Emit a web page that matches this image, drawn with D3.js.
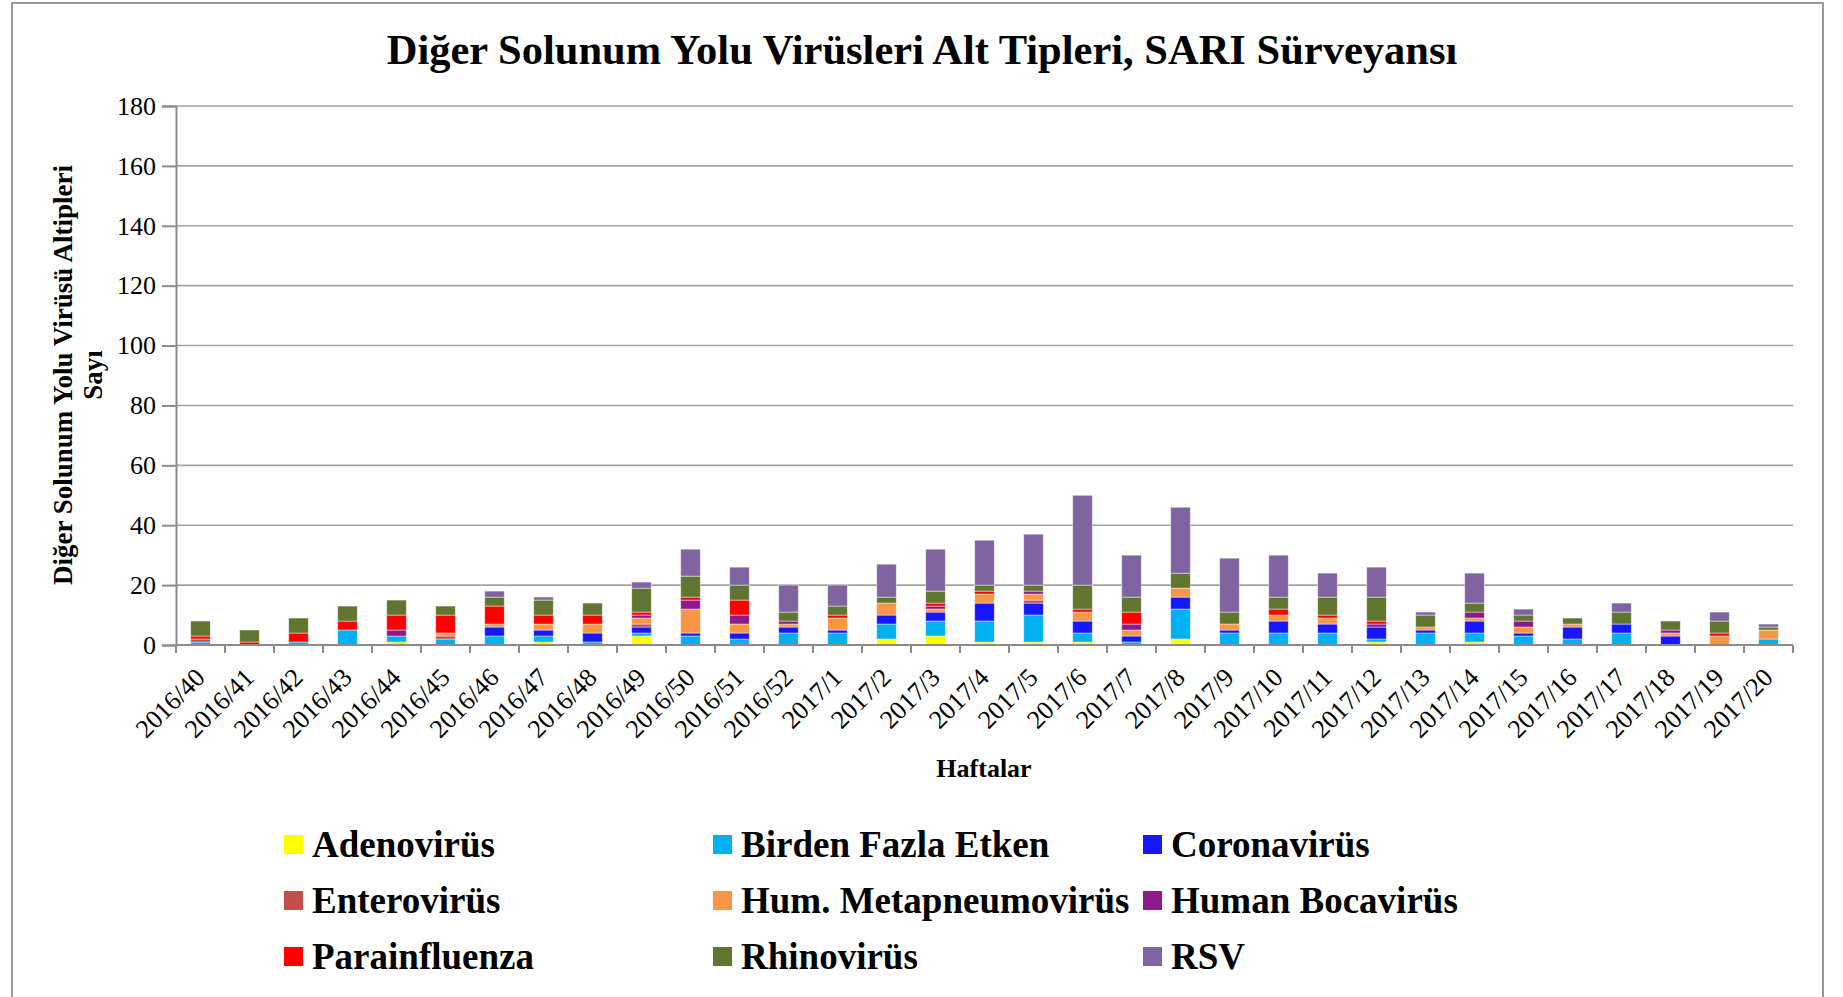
<!DOCTYPE html>
<html>
<head>
<meta charset="utf-8">
<script src="https://cdn.jsdelivr.net/npm/d3@7"></script>
<style>
  body { margin: 0; background: #fff; }
  svg { display: block; font-family: "Liberation Serif", "Times New Roman", serif; }
</style>
</head>
<body>
<div id="chart"></div>
<script>
// weeks on the x axis
var weeks = ["2016/40","2016/41","2016/42","2016/43","2016/44","2016/45","2016/46","2016/47","2016/48","2016/49","2016/50","2016/51","2016/52",
  "2017/1","2017/2","2017/3","2017/4","2017/5","2017/6","2017/7","2017/8","2017/9","2017/10","2017/11","2017/12","2017/13","2017/14",
  "2017/15","2017/16","2017/17","2017/18","2017/19","2017/20"];

// counts per week, one array per virus
var adenovirus   = [0,0,0,0,1,0,0,1,0,3,0,0,0,0,2,3,1,1,1,0,2,0,0,0,1,0,1,0,0,0,0,0,0];
var birdenFazla  = [1,0,1,5,2,2,3,2,1,1,3,2,4,4,5,5,7,9,3,1,10,4,4,4,1,4,3,3,2,4,0,0,2];
var coronavirus  = [0,0,0,0,0,0,3,2,3,2,1,2,2,1,3,3,6,4,4,2,4,1,4,3,4,1,4,1,4,3,3,0,0];
var enterovirus  = [1,0,0,0,0,1,0,0,0,1,0,0,0,0,0,0,0,1,0,0,0,0,0,0,0,0,0,0,0,0,0,0,0];
var metapneumo   = [0,0,0,0,0,1,1,2,3,2,8,3,1,4,4,1,3,2,3,2,3,2,2,2,0,1,1,2,1,0,1,3,3];
var bocavirus    = [0,0,0,0,2,0,0,0,0,1,3,3,1,0,0,1,0,1,0,2,0,0,0,0,1,0,2,2,0,0,1,0,0];
var parainfluenza= [1,1,3,3,5,6,6,3,3,1,1,5,0,1,0,1,1,0,1,4,0,0,2,1,1,0,0,0,0,0,0,1,0];
var rhinovirus   = [5,4,5,5,5,3,3,5,4,8,7,5,3,3,2,4,2,2,8,5,5,4,4,6,8,4,3,2,2,4,3,4,1];
var rsv          = [0,0,0,0,0,0,2,1,0,2,9,6,9,7,11,14,15,17,30,14,22,18,14,8,10,1,10,2,0,3,0,3,1];

var seriesNames = ["Adenovirüs","Birden Fazla Etken","Coronavirüs","Enterovirüs","Hum. Metapneumovirüs",
  "Human Bocavirüs","Parainfluenza","Rhinovirüs","RSV"];
var seriesValues = [adenovirus, birdenFazla, coronavirus, enterovirus, metapneumo, bocavirus, parainfluenza, rhinovirus, rsv];
var seriesColors = ["#FFFF00","#00B0F0","#1717FF","#C0504D","#F79646","#8B1A8A","#FF0000","#5F7530","#8064A2"];
var yTicks = [0,20,40,60,80,100,120,140,160,180];

var width = 1843, height = 997;
var plotLeft = 176, plotRight = 1793, plotTop = 106, plotBottom = 645;

// build rows for d3.stack
var rows = weeks.map(function(w, i) {
  var r = { week: w };
  seriesNames.forEach(function(n, k) { r[n] = seriesValues[k][i]; });
  return r;
});
var stacked = d3.stack().keys(seriesNames)(rows);

var svg = d3.select('#chart').append('svg')
  .attr('width', width)
  .attr('height', height);

// outer chart border
svg.append('rect')
  .attr('x', 12).attr('y', 3)
  .attr('width', 1811).attr('height', 1020)
  .attr('fill', 'none')
  .attr('stroke', '#9a9a9a')
  .attr('stroke-width', 2);

var x = d3.scaleBand()
  .domain(weeks)
  .range([plotLeft, plotRight])
  .paddingInner(0.6)
  .paddingOuter(0.3);

var y = d3.scaleLinear()
  .domain([0, 180])
  .range([plotBottom, plotTop]);

// gridlines
svg.append('g')
  .selectAll('line')
  .data(yTicks.slice(1))
  .enter()
  .append('line')
  .attr('x1', plotLeft).attr('x2', plotRight)
  .attr('y1', function(d) { return y(d); })
  .attr('y2', function(d) { return y(d); })
  .attr('stroke', '#a3a3a3')
  .attr('stroke-width', 1.6);

// y axis
var yAxis = svg.append('g')
  .attr('transform', 'translate(' + plotLeft + ',0)')
  .call(d3.axisLeft(y).tickValues(yTicks).tickSize(14).tickPadding(6));
yAxis.selectAll('path, line').attr('stroke', '#8c8c8c').attr('stroke-width', 2);
yAxis.selectAll('text')
  .attr('font-size', 26)
  .attr('font-family', '"Liberation Serif", serif')
  .attr('fill', '#000');

// bars
svg.append('g')
  .selectAll('g')
  .data(stacked)
  .enter()
  .append('g')
  .attr('fill', function(d, i) { return seriesColors[i]; })
  .selectAll('rect')
  .data(function(d) { return d.filter(function(p) { return p[1] > p[0]; }); })
  .enter()
  .append('rect')
  .attr('x', function(d) { return x(d.data.week); })
  .attr('width', x.bandwidth())
  .attr('y', function(d) { return y(d[1]); })
  .attr('height', function(d) { return y(d[0]) - y(d[1]); })
  .attr('stroke', '#ffffff')
  .attr('stroke-opacity', 0.55)
  .attr('stroke-width', 0.8);

// x axis: baseline, boundary ticks, rotated labels
var xg = svg.append('g');
xg.append('line')
  .attr('x1', plotLeft).attr('x2', plotRight)
  .attr('y1', plotBottom).attr('y2', plotBottom)
  .attr('stroke', '#8c8c8c').attr('stroke-width', 2);

var step = x.step();
var bounds = d3.range(weeks.length + 1).map(function(i) {
  return x(weeks[0]) + x.bandwidth() / 2 - step / 2 + i * step;
});
xg.selectAll('.tickmark')
  .data(bounds)
  .enter()
  .append('line')
  .attr('class', 'tickmark')
  .attr('x1', function(d) { return d; }).attr('x2', function(d) { return d; })
  .attr('y1', plotBottom).attr('y2', plotBottom + 8)
  .attr('stroke', '#8c8c8c').attr('stroke-width', 2);

xg.selectAll('.wlabel')
  .data(weeks)
  .enter()
  .append('text')
  .attr('class', 'wlabel')
  .attr('text-anchor', 'end')
  .attr('font-size', 26)
  .attr('transform', function(d) {
    return 'translate(' + (x(d) + x.bandwidth() / 2 + 6) + ',' + 679 + ') rotate(-45)';
  })
  .text(function(d) { return d; });

// titles
svg.append('text')
  .attr('x', 922).attr('y', 64)
  .attr('text-anchor', 'middle')
  .attr('font-size', 42.5)
  .attr('font-weight', 'bold')
  .text('Diğer Solunum Yolu Virüsleri Alt Tipleri, SARI Sürveyansı');

svg.append('text')
  .attr('x', 984).attr('y', 777)
  .attr('text-anchor', 'middle')
  .attr('font-size', 26)
  .attr('font-weight', 'bold')
  .text('Haftalar');

var yTitle = svg.append('text')
  .attr('transform', 'translate(72,375) rotate(-90)')
  .attr('text-anchor', 'middle')
  .attr('font-size', 27)
  .attr('font-weight', 'bold');
yTitle.append('tspan').attr('x', 0).attr('y', 0).text('Diğer Solunum Yolu Virüsü Altipleri');
yTitle.append('tspan').attr('x', 0).attr('y', 30).text('Sayı');

// legend, 3 columns
var legendCols = [284, 713, 1143];
var legendRows = [857, 913, 969];
var legend = svg.append('g')
  .selectAll('g')
  .data(seriesNames)
  .enter()
  .append('g')
  .attr('transform', function(d, i) {
    return 'translate(' + legendCols[i % 3] + ',' + legendRows[Math.floor(i / 3)] + ')';
  });
legend.append('rect')
  .attr('x', 0).attr('y', -22)
  .attr('width', 19).attr('height', 19)
  .attr('fill', function(d, i) { return seriesColors[i]; });
legend.append('text')
  .attr('x', 28).attr('y', 0)
  .attr('font-size', 37)
  .attr('font-weight', 'bold')
  .text(function(d) { return d; });
</script>
</body>
</html>
